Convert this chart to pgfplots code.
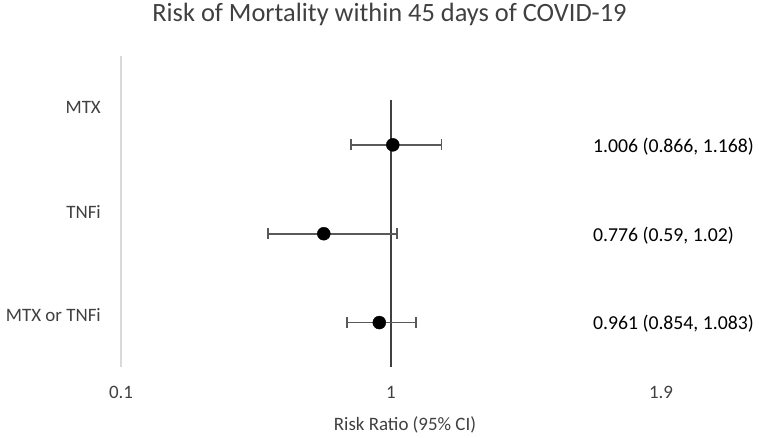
\documentclass[border=0pt]{standalone}
\usepackage{pgfplots}
\pgfplotsset{compat=1.18}
\usepackage{fontspec}
\setmainfont{Carlito}
\definecolor{txt}{HTML}{404040}
\definecolor{axgray}{HTML}{D9D9D9}
\definecolor{errgray}{HTML}{595959}
\definecolor{refline}{HTML}{404040}
\pgfplotstableread{
x      y     ep     em
1.006  2.5   0.162  0.140
0.776  1.5   0.244  0.186
0.961  0.5   0.122  0.107
}\forestdata
\begin{document}
\begin{tikzpicture}
\path[use as bounding box] (0,0) rectangle (759bp,438bp);
\begin{axis}[
  at={(121bp,71bp)}, anchor=south west,
  scale only axis, width=540bp, height=311bp,
  xmin=0.1, xmax=1.9, ymin=0, ymax=3.5,
  axis line style={draw=none},
  xtick={0.1,1,1.9}, xticklabels={0.1,1,1.9},
  ytick={0.58333,1.75,2.91667}, yticklabels={MTX or TNFi,TNFi,MTX},
  major tick length=0pt,
  tick label style={font=\fontsize{19}{22}\selectfont, text=txt, inner sep=0pt},
  xticklabel style={anchor=base, yshift=-32bp},
  yticklabel style={anchor=east, xshift=-20bp},
  clip=false,
]
\addplot[axgray, line width=1.5bp] coordinates {(0.1,0) (0.1,3.5)};
\addplot[refline, line width=1.6bp] coordinates {(1,0) (1,3)};
\addplot[only marks, mark=*, mark size=6.5bp, mark options={draw=black, fill=black},
  error bars/.cd, x dir=both, x explicit, error mark=|,
  error bar style={line width=1.8bp, draw=errgray},
  error mark options={line width=1.8bp, draw=errgray, mark size=5.5bp}]
  table[x=x, y=y, x error plus=ep, x error minus=em] {\forestdata};
\node[anchor=west, inner sep=0pt, font=\fontsize{19.8}{22}\selectfont, yshift=-2bp] at (axis cs:1.673,2.5) {1.006 (0.866, 1.168)};
\node[anchor=west, inner sep=0pt, font=\fontsize{19.8}{22}\selectfont, yshift=-2bp] at (axis cs:1.673,1.5) {0.776 (0.59, 1.02)};
\node[anchor=west, inner sep=0pt, font=\fontsize{19.8}{22}\selectfont, yshift=-1bp] at (axis cs:1.673,0.5) {0.961 (0.854, 1.083)};
\end{axis}
\node[anchor=base, text=txt, font=\fontsize{26.5}{30}\selectfont] at (389.5bp,416bp) {Risk of Mortality within 45 days of COVID-19};
\node[anchor=base, text=txt, font=\fontsize{19}{22}\selectfont] at (405bp,8bp) {Risk Ratio (95\% CI)};
\end{tikzpicture}
\end{document}
